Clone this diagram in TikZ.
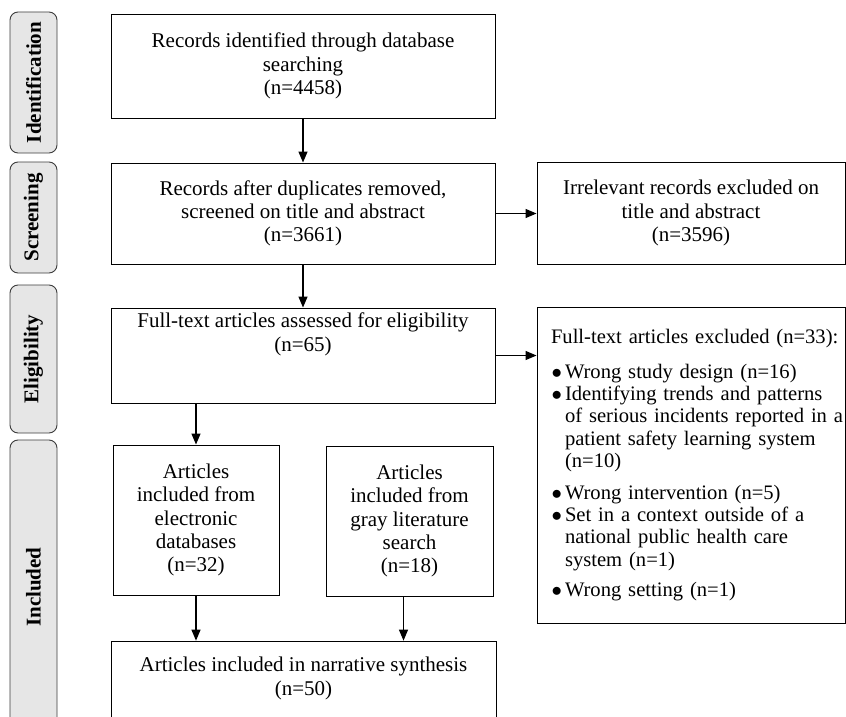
\documentclass[tikz,border=0pt]{standalone}
\usepackage{fontspec}
\setmainfont{Liberation Serif}
\usetikzlibrary{arrows.meta}
\definecolor{tabgray}{RGB}{230,230,230}
\definecolor{tabline}{RGB}{60,60,60}
\newcommand{\exbullet}{\makebox[14pt][l]{\hspace{0.5pt}$\bullet$}}
\newcommand{\exindent}{\hspace*{14pt}}
\begin{document}
\begin{tikzpicture}[x=10pt,y=10pt,
  box/.style={draw=black,line width=0.9pt,align=center,inner sep=0pt,font=\fontsize{21}{23.3}\selectfont},
  tab/.style={draw=tabline,fill=tabgray,line width=0.9pt,rounded corners=8pt,rotate=90,
    minimum height=47pt,inner sep=0pt,font=\fontsize{21}{23.3}\selectfont\bfseries},
  arr/.style={line width=1.2pt,-{Triangle[length=11pt,width=9pt]}}]
  \useasboundingbox (0,0) rectangle (84.6,-71.7);
  \clip (0,0) rectangle (84.6,-71.7);
  \node[tab,minimum width=141pt] (tabid) at (3.35,-8.25) {Identification};
  \node[tab,minimum width=111pt] (tabscr) at (3.35,-21.75) {Screening};
  \node[tab,minimum width=148pt] (tabelg) at (3.35,-35.9) {Eligibility};
  \node[tab,minimum width=294pt] (tabinc) at (3.35,-58.7) {Included};
  \node[box,minimum width=384pt,minimum height=104pt] (rec) at (30.3,-6.6)
    {Records identified through database\\searching\\(n=4458)};
  \node[box,minimum width=384pt,minimum height=101pt] (screen) at (30.3,-21.35)
    {Records after duplicates removed,\\screened on title and abstract\\(n=3661)};
  \node[box,minimum width=308pt,minimum height=102pt] (irrel) at (69.1,-21.3)
    {Irrelevant records excluded on\\title and abstract\\(n=3596)};
  \node[box,minimum width=384pt,minimum height=95pt] (full) at (30.3,-35.55)
    {Full-text articles assessed for eligibility\\(n=65)\\~\\~};
  \node[box,align=left,text width=280pt,inner xsep=14pt,minimum height=316pt,
    font=\fontsize{20.6}{22.4}\selectfont] (excl) at (69.1,-46.5)
    {\mbox{Full-text articles excluded (n=33):}\\[12pt]
     \mbox{\exbullet Wrong study design (n=16)}\\
     \mbox{\exbullet Identifying trends and patterns}\\
     \mbox{\exindent of serious incidents reported in a}\\
     \mbox{\exindent patient safety learning system}\\
     \mbox{\exindent (n=10)}\\[9pt]
     \mbox{\exbullet Wrong intervention (n=5)}\\
     \mbox{\exbullet Set in a context outside of a}\\
     \mbox{\exindent national public health care}\\
     \mbox{\exindent system (n=1)}\\[7.5pt]
     \mbox{\exbullet Wrong setting (n=1)}};
  \node[box,minimum width=166pt,minimum height=150pt] (elec) at (19.6,-52)
    {Articles\\included from\\electronic\\databases\\(n=32)};
  \node[box,minimum width=167pt,minimum height=150pt] (gray) at (40.95,-52.1)
    {Articles\\included from\\gray literature\\search\\(n=18)};
  \node[box,minimum width=385pt,minimum height=117pt] (synth) at (30.35,-69.96)
    {Articles included in narrative synthesis\\(n=50)\\~\\~};
  \draw[arr] (rec.south) -- (screen.north);
  \draw[arr] (screen.east) -- (screen.east -| irrel.west);
  \draw[arr] (screen.south) -- (full.north);
  \draw[arr] (full.east) -- (full.east -| excl.west);
  \draw[arr] (full.south -| elec.north) -- (elec.north);
  \draw[arr] (elec.south) -- (elec.south |- synth.north);
  \draw[arr] ([xshift=-6pt]gray.south) -- ([xshift=-6pt]gray.south |- synth.north);
\end{tikzpicture}
\end{document}
